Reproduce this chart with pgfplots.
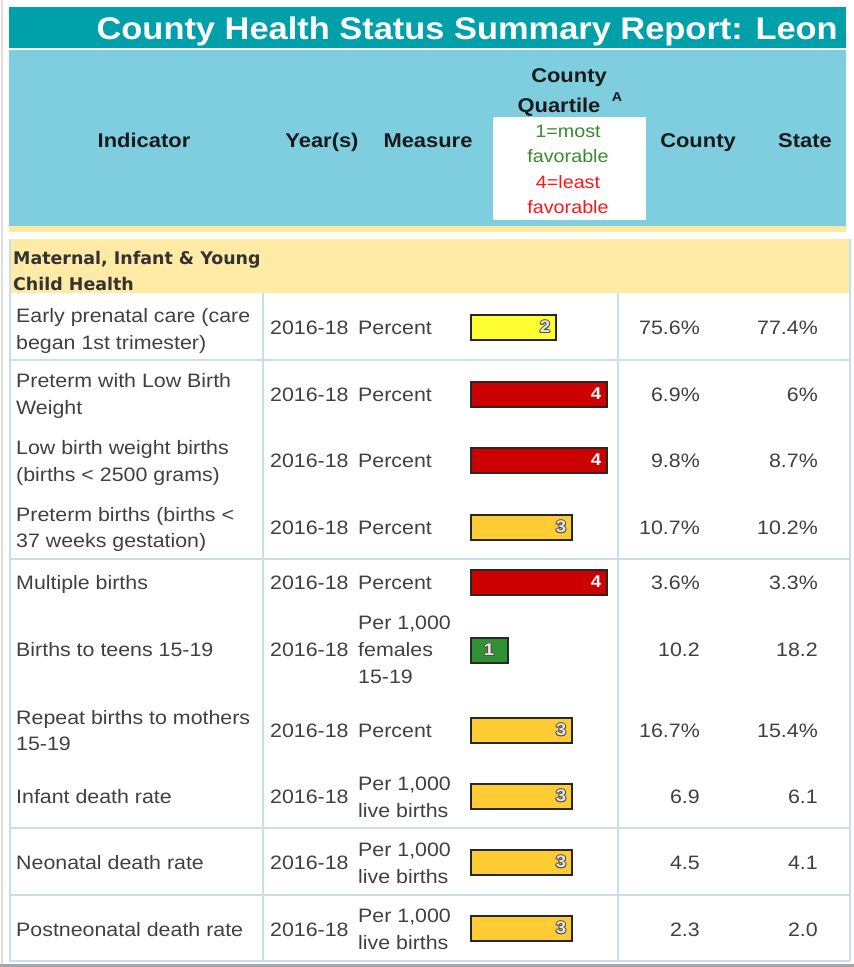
\documentclass[border=0pt]{standalone}
\usepackage{pgfplots}
\pgfplotsset{compat=1.18}
\usepackage{pgfplotstable}
\usepackage{fontspec}
\setmainfont[FakeStretch=1.1]{Liberation Sans}
\newfontfamily\secfont{DejaVu Sans}

\definecolor{titlebg}{RGB}{0,160,170}
\definecolor{hdrbg}{RGB}{126,206,224}
\definecolor{band}{RGB}{255,233,160}
\definecolor{secbg}{RGB}{255,234,166}
\definecolor{gridc}{RGB}{200,222,232}
\definecolor{txtc}{RGB}{64,64,64}
\definecolor{hdc}{RGB}{26,26,26}
\definecolor{favg}{RGB}{55,140,45}
\definecolor{favr}{RGB}{250,25,25}
\definecolor{qone}{RGB}{50,145,50}
\definecolor{qtwo}{RGB}{255,255,51}
\definecolor{qthree}{RGB}{255,204,51}
\definecolor{qfour}{RGB}{204,0,0}
\definecolor{barline}{RGB}{40,40,40}
\definecolor{olc}{RGB}{80,80,80}

% quartile digit with a grey outline
\newcommand{\outl}[1]{{\setbox0\hbox{#1}%
  \rlap{\kern-1pt\textcolor{olc}{\copy0}}%
  \rlap{\kern1pt\textcolor{olc}{\copy0}}%
  \rlap{\raise1pt\hbox{\textcolor{olc}{\copy0}}}%
  \rlap{\lower1pt\hbox{\textcolor{olc}{\copy0}}}%
  \rlap{\kern0.75pt\raise0.75pt\hbox{\textcolor{olc}{\copy0}}}%
  \rlap{\kern-0.75pt\lower0.75pt\hbox{\textcolor{olc}{\copy0}}}%
  \rlap{\kern0.75pt\lower0.75pt\hbox{\textcolor{olc}{\copy0}}}%
  \rlap{\kern-0.75pt\raise0.75pt\hbox{\textcolor{olc}{\copy0}}}%
  \textcolor{white!90!black}{\copy0}}}

% bar length (px), row centre (px), quartile
\pgfplotstableread{
len y q
37 650 1
}\qonetab
\pgfplotstableread{
len y q
85 327 2
}\qtwotab
\pgfplotstableread{
len y q
101 527 3
101 730 3
101 796 3
101 862 3
101 928 3
}\qthreetab
\pgfplotstableread{
len y q
136 394 4
136 460 4
136 582 4
}\qfourtab

\tikzset{
  tx/.style={font=\fontsize{19.5}{26}\selectfont, text=txtc, inner sep=0pt, yshift=-5bp},
  hd/.style={font=\fontsize{20}{24}\selectfont\bfseries, text=hdc, inner sep=0pt, yshift=-5bp},
  lg/.style={font=\fontsize{18}{22}\selectfont, inner sep=0pt, yshift=-4bp},
  sc/.style={font=\fontsize{17.5}{26}\selectfont\secfont\bfseries, text=black!80,
    inner sep=0pt, yshift=-5bp, anchor=mid west},
  qlab/.style={anchor=center, xshift=-11bp, font=\fontsize{17}{17}\selectfont\bfseries,
    inner sep=0pt},
}

\begin{document}
\begin{tikzpicture}
% page frame in pixel units
\begin{axis}[
    at={(0,0)}, anchor=north west,
    scale only axis, width=854bp, height=967bp,
    xmin=0, xmax=854, ymin=0, ymax=967, y dir=reverse,
    hide axis, clip=false,
]
\fill[gray!25] (axis cs:1,0) rectangle (axis cs:3,967);
\fill[gray!70] (axis cs:0,964) rectangle (axis cs:854,967);
\fill[titlebg] (axis cs:9,7) rectangle (axis cs:846,48);
\fill[hdrbg] (axis cs:9,50) rectangle (axis cs:846,226);
\fill[band] (axis cs:9,226) rectangle (axis cs:846,232);
\fill[white] (axis cs:493,117) rectangle (axis cs:646,220);
\fill[secbg] (axis cs:9,239) rectangle (axis cs:850,293);

% grid
\pgfplotsinvokeforeach{360,559,828,895,961}{
  \draw[gridc, line width=1.5pt] (axis cs:9,#1) -- (axis cs:850,#1);
}
\draw[gridc, line width=1.5pt] (axis cs:263,293) -- (axis cs:263,961);
\draw[gridc, line width=1.5pt] (axis cs:618,293) -- (axis cs:618,961);
\draw[gridc, line width=1.5pt] (axis cs:10,239) -- (axis cs:10,961);
\draw[gridc, line width=1.5pt] (axis cs:850,239) -- (axis cs:850,961);

% title and header
\node[font=\fontsize{31.4}{36}\selectfont\bfseries, text=white, inner sep=0pt,
      anchor=base east] at (axis cs:838,39) {County Health Status Summary Report: Leon};
\node[hd, anchor=mid] at (axis cs:144,140) {Indicator};
\node[hd, anchor=mid] at (axis cs:322,140) {Year(s)};
\node[hd, anchor=mid] at (axis cs:428,140) {Measure};
\node[hd, anchor=mid] at (axis cs:569,75) {County};
\node[hd, anchor=mid] at (axis cs:559,105) {Quartile};
\node[font=\fontsize{13}{14}\selectfont\bfseries, text=hdc, inner sep=0pt] at (axis cs:617,97) {A};
\node[hd, anchor=mid] at (axis cs:698,140) {County};
\node[hd, anchor=mid] at (axis cs:805,140) {State};
\node[lg, text=favg, anchor=mid] at (axis cs:568,131) {1=most};
\node[lg, text=favg, anchor=mid] at (axis cs:568,156) {favorable};
\node[lg, text=favr, anchor=mid] at (axis cs:568,182) {4=least};
\node[lg, text=favr, anchor=mid] at (axis cs:568,207) {favorable};

% section
\node[sc] at (axis cs:13,257) {Maternal, Infant \& Young};
\node[sc] at (axis cs:13,283) {Child Health};

% indicator column
\node[tx, anchor=mid west] at (axis cs:16,315) {Early prenatal care (care};
\node[tx, anchor=mid west] at (axis cs:16,342) {began 1st trimester)};
\node[tx, anchor=mid west] at (axis cs:16,380) {Preterm with Low Birth};
\node[tx, anchor=mid west] at (axis cs:16,407) {Weight};
\node[tx, anchor=mid west] at (axis cs:16,447) {Low birth weight births};
\node[tx, anchor=mid west] at (axis cs:16,474) {(births < 2500 grams)};
\node[tx, anchor=mid west] at (axis cs:16,514) {Preterm births (births <};
\node[tx, anchor=mid west] at (axis cs:16,540) {37 weeks gestation)};
\node[tx, anchor=mid west] at (axis cs:16,582) {Multiple births};
\node[tx, anchor=mid west] at (axis cs:16,649) {Births to teens 15-19};
\node[tx, anchor=mid west] at (axis cs:16,717) {Repeat births to mothers};
\node[tx, anchor=mid west] at (axis cs:16,743) {15-19};
\node[tx, anchor=mid west] at (axis cs:16,796) {Infant death rate};
\node[tx, anchor=mid west] at (axis cs:16,862) {Neonatal death rate};
\node[tx, anchor=mid west] at (axis cs:16,929) {Postneonatal death rate};

% year(s) column
\pgfplotsinvokeforeach{327,394,460,527,582,649,730,796,862,929}{
  \node[tx, anchor=mid west] at (axis cs:270,#1) {2016-18};
}

% measure column
\pgfplotsinvokeforeach{327,394,460,527,582,730}{
  \node[tx, anchor=mid west] at (axis cs:358,#1) {Percent};
}
\node[tx, anchor=mid west] at (axis cs:358,622) {Per 1,000};
\node[tx, anchor=mid west] at (axis cs:358,649) {females};
\node[tx, anchor=mid west] at (axis cs:358,676) {15-19};
\node[tx, anchor=mid west] at (axis cs:358,783) {Per 1,000};
\node[tx, anchor=mid west] at (axis cs:358,810) {live births};
\node[tx, anchor=mid west] at (axis cs:358,849) {Per 1,000};
\node[tx, anchor=mid west] at (axis cs:358,876) {live births};
\node[tx, anchor=mid west] at (axis cs:358,915) {Per 1,000};
\node[tx, anchor=mid west] at (axis cs:358,942) {live births};

% county and state values
\node[tx, anchor=mid east] at (axis cs:700,327) {75.6\%};
\node[tx, anchor=mid east] at (axis cs:700,394) {6.9\%};
\node[tx, anchor=mid east] at (axis cs:700,460) {9.8\%};
\node[tx, anchor=mid east] at (axis cs:700,527) {10.7\%};
\node[tx, anchor=mid east] at (axis cs:700,582) {3.6\%};
\node[tx, anchor=mid east] at (axis cs:700,649) {10.2};
\node[tx, anchor=mid east] at (axis cs:700,730) {16.7\%};
\node[tx, anchor=mid east] at (axis cs:700,796) {6.9};
\node[tx, anchor=mid east] at (axis cs:700,862) {4.5};
\node[tx, anchor=mid east] at (axis cs:700,929) {2.3};
\node[tx, anchor=mid east] at (axis cs:818,327) {77.4\%};
\node[tx, anchor=mid east] at (axis cs:818,394) {6\%};
\node[tx, anchor=mid east] at (axis cs:818,460) {8.7\%};
\node[tx, anchor=mid east] at (axis cs:818,527) {10.2\%};
\node[tx, anchor=mid east] at (axis cs:818,582) {3.3\%};
\node[tx, anchor=mid east] at (axis cs:818,649) {18.2};
\node[tx, anchor=mid east] at (axis cs:818,730) {15.4\%};
\node[tx, anchor=mid east] at (axis cs:818,796) {6.1};
\node[tx, anchor=mid east] at (axis cs:818,862) {4.1};
\node[tx, anchor=mid east] at (axis cs:818,929) {2.0};
\end{axis}

% quartile bars
\begin{axis}[
    at={(471bp,-295bp)}, anchor=north west,
    scale only axis, width=140bp, height=667bp,
    xmin=0, xmax=140, ymin=295, ymax=962, y dir=reverse,
    hide axis, clip=false,
    xbar, bar width=25, bar shift=0pt,
    point meta=explicit symbolic,
    nodes near coords,
    every axis plot/.append style={draw=barline, line width=2pt},
]
\addplot[fill=qone, bar shift=0pt, nodes near coords={\outl{\pgfplotspointmeta}},
    every node near coord/.append style={qlab, xshift=-8bp}]
    table[x=len, y=y, meta=q] {\qonetab};
\addplot[fill=qtwo, bar shift=0pt, nodes near coords={\outl{\pgfplotspointmeta}},
    every node near coord/.append style={qlab}]
    table[x=len, y=y, meta=q] {\qtwotab};
\addplot[fill=qthree, bar shift=0pt, nodes near coords={\outl{\pgfplotspointmeta}},
    every node near coord/.append style={qlab}]
    table[x=len, y=y, meta=q] {\qthreetab};
\addplot[fill=qfour, bar shift=0pt, nodes near coords={\pgfplotspointmeta},
    every node near coord/.append style={qlab, text=white}]
    table[x=len, y=y, meta=q] {\qfourtab};
\end{axis}
\end{tikzpicture}
\end{document}
